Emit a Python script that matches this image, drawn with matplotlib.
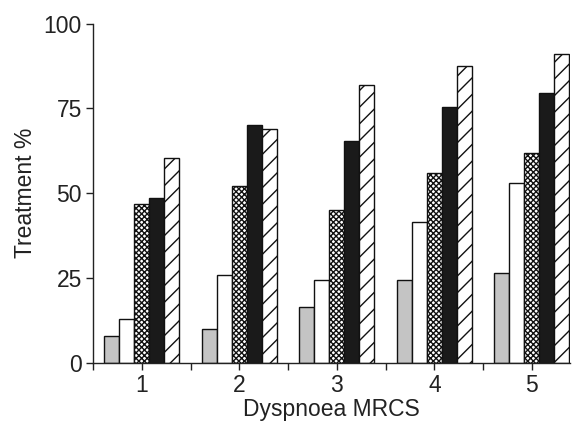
import matplotlib
matplotlib.use("Agg")
import matplotlib.pyplot as plt
import numpy as np

plt.rcParams['font.family'] = ['Liberation Sans', 'DejaVu Sans']
plt.rcParams['hatch.linewidth'] = 1.0

categories = [1, 2, 3, 4, 5]
series_gray = [8, 10, 16.5, 24.5, 26.5]
series_white = [13, 26, 24.3, 41.5, 53]
series_checker = [46.8, 52.3, 45, 56, 62]
series_black = [48.5, 70.2, 65.5, 75.3, 79.6]
series_hatched = [60.5, 69, 82, 87.5, 91.2]
yticks = [0, 25, 50, 75, 100]

fs = 16.5

fig = plt.figure(figsize=(5.78, 4.23), dpi=100)
ax = fig.add_axes([0.161, 0.142, 0.825, 0.802])

x = np.array(categories, dtype=float)
w = 0.154
styles = [
    (series_gray, dict(facecolor='#c4c4c4', hatch=None)),
    (series_white, dict(facecolor='white', hatch=None)),
    (series_checker, dict(facecolor='white', hatch='xxxxxx')),
    (series_black, dict(facecolor='#1a1a1a', hatch=None)),
    (series_hatched, dict(facecolor='white', hatch='//')),
]
for i, (vals, st) in enumerate(styles):
    ax.bar(x + (i - 2) * w, vals, width=w, edgecolor='#111111', linewidth=1.0,
           facecolor=st['facecolor'], hatch=st['hatch'])

ax.set_xlim(0.5, 5.39)
ax.set_ylim(0, 100)
ax.set_yticks(yticks)
ax.set_xticks(categories)
ax.set_xticks([0.5, 1.5, 2.5, 3.5, 4.5], minor=True)
ax.tick_params(axis='both', which='major', direction='out', length=5, width=1,
               labelsize=fs, pad=3, colors='#222222')
ax.tick_params(axis='x', which='minor', direction='out', length=5, width=1, colors='#222222')
for s in ['top', 'right']:
    ax.spines[s].set_visible(False)
for s in ['left', 'bottom']:
    ax.spines[s].set_linewidth(1.0)
    ax.spines[s].set_color('#222222')

ax.set_ylabel('Treatment %', fontsize=fs, color='#222222', labelpad=5)
ax.set_xlabel('Dyspnoea MRCS', fontsize=fs, color='#222222', labelpad=1)

fig.savefig('out.png', dpi=100)
